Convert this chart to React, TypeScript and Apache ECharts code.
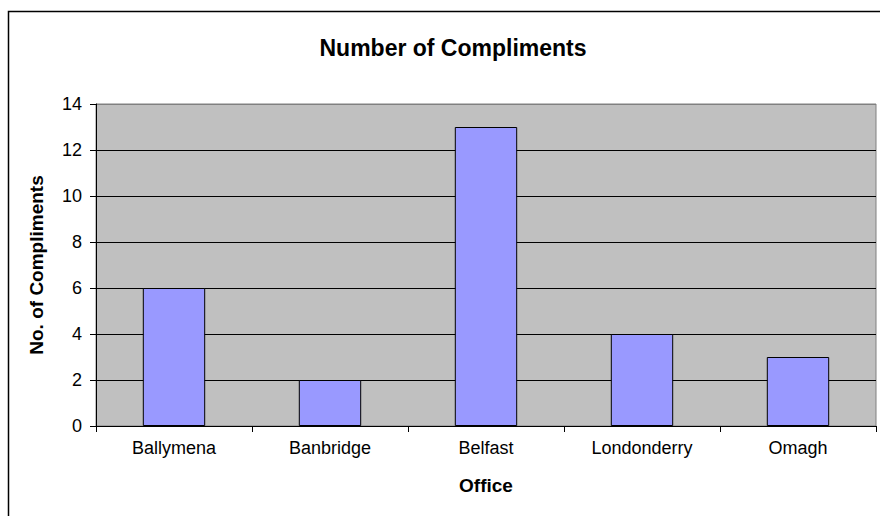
import React, { useEffect, useRef } from "react";
import * as echarts from "echarts";

const categories = ["Ballymena", "Banbridge", "Belfast", "Londonderry", "Omagh"];
const compliments = [6, 2, 13, 4, 3];
const titleText = "Number of Compliments";
const xName = "Office";
const yName = "No. of Compliments";

const FONT = 'Arial, "Liberation Sans", sans-serif';

export default function App() {
  const ref = useRef<HTMLDivElement>(null);
  useEffect(() => {
    if (!ref.current) return;
    const chart = echarts.init(ref.current, null, { renderer: "svg" });
    chart.setOption({
      animation: false,
      backgroundColor: "#ffffff",
      title: {
        text: titleText,
        left: 448,
        top: 31,
        textAlign: "center",
        textStyle: { fontFamily: FONT, fontSize: 23, fontWeight: "bold", color: "#000" },
      },
      graphic: [
        {
          type: "rect",
          shape: { x: 8.5, y: 11.5, width: 1000, height: 1000 },
          style: { fill: "none", stroke: "#000", lineWidth: 1.5 },
          silent: true,
          z: 100,
        },
      ],
      grid: {
        left: 96,
        top: 104,
        right: 4,
        bottom: 90,
        show: true,
        backgroundColor: "#C0C0C0",
        borderColor: "#808080",
        borderWidth: 1,
      },
      xAxis: {
        type: "category",
        data: categories,
        name: xName,
        nameLocation: "middle",
        nameGap: 50,
        nameTextStyle: { fontFamily: FONT, fontSize: 19, fontWeight: "bold", color: "#000" },
        axisLine: { show: true, lineStyle: { color: "#000", width: 1 } },
        axisTick: { show: true, length: 6, lineStyle: { color: "#000" } },
        axisLabel: { fontFamily: FONT, fontSize: 18, color: "#000", margin: 13 },
        splitLine: { show: false },
      },
      yAxis: {
        type: "value",
        min: 0,
        max: 14,
        interval: 2,
        name: yName,
        nameLocation: "middle",
        nameGap: 50,
        nameTextStyle: { fontFamily: FONT, fontSize: 19, fontWeight: "bold", color: "#000" },
        axisLine: { show: true, lineStyle: { color: "#000", width: 1 } },
        axisTick: { show: true, length: 6, lineStyle: { color: "#000" } },
        axisLabel: { fontFamily: FONT, fontSize: 18, color: "#000", margin: 14 },
        splitLine: {
          show: true,
          lineStyle: {
            color: ["#000", "#000", "#000", "#000", "#000", "#000", "#000", "#808080"],
            width: 1,
          },
        },
      },
      series: [
        {
          type: "bar",
          data: compliments,
          barWidth: "40%",
          itemStyle: { color: "#9999FF", borderColor: "#000", borderWidth: 1 },
        },
      ],
    });
    return () => chart.dispose();
  }, []);
  return (
    <div
      ref={ref}
      style={{ position: "absolute", left: 0, top: 0, width: 880, height: 516 }}
    />
  );
}
